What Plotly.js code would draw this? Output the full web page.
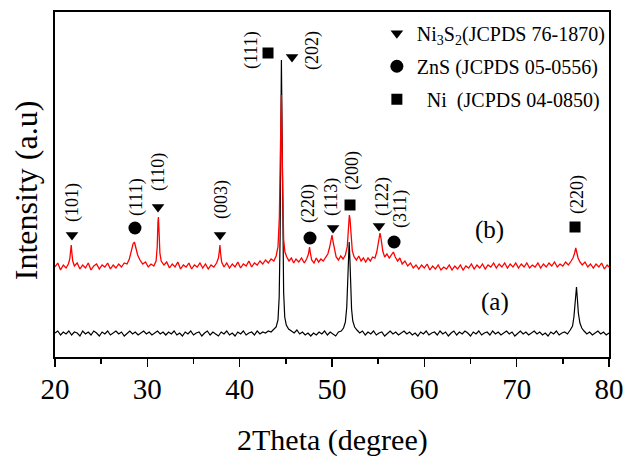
<!DOCTYPE html>
<html>
<head>
<meta charset="utf-8">
<script src="https://cdn.plot.ly/plotly-3.0.1.min.js"></script>
<style>html,body{margin:0;padding:0;background:#fff;}#chart{width:626px;height:466px;}</style>
</head>
<body>
<div id="chart"></div>
<script>
// ---- Pattern (a): black ----
var xa = [20.0,20.3,20.6,20.9,21.2,21.5,21.8,22.1,22.4,22.7,23.0,23.3,23.6,23.9,24.2,24.5,24.8,25.1,25.4,25.7,26.0,26.3,26.6,26.9,27.2,27.5,27.8,28.1,28.4,28.7,29.0,29.3,29.6,29.9,30.2,30.5,30.8,31.1,31.4,31.7,32.0,32.3,32.6,32.9,33.2,33.5,33.8,34.1,34.4,34.7,35.0,35.3,35.6,35.9,36.2,36.5,36.8,37.1,37.4,37.7,38.0,38.3,38.6,38.9,39.2,39.5,39.8,40.1,40.4,40.7,41.0,41.3,41.6,41.9,42.2,42.5,42.8,43.1,43.4,43.7,43.95,44.15,44.28,44.38,44.46,44.52,44.58,44.66,44.76,44.88,45.05,45.3,45.6,45.9,46.2,46.5,46.8,47.1,47.4,47.7,48.0,48.3,48.6,48.9,49.2,49.5,49.8,50.1,50.4,50.7,51.0,51.25,51.45,51.6,51.7,51.8,51.86,51.93,52.02,52.12,52.25,52.45,52.7,53.0,53.3,53.6,53.9,54.2,54.5,54.8,55.1,55.4,55.7,56.0,56.3,56.6,56.9,57.2,57.5,57.8,58.1,58.4,58.7,59.0,59.3,59.6,59.9,60.2,60.5,60.8,61.1,61.4,61.7,62.0,62.3,62.6,62.9,63.2,63.5,63.8,64.1,64.4,64.7,65.0,65.3,65.6,65.9,66.2,66.5,66.8,67.1,67.4,67.7,68.0,68.3,68.6,68.9,69.2,69.5,69.8,70.1,70.4,70.7,71.0,71.3,71.6,71.9,72.2,72.5,72.8,73.1,73.4,73.7,74.0,74.3,74.6,74.9,75.2,75.5,75.8,76.05,76.2,76.32,76.42,76.48,76.56,76.68,76.85,77.05,77.3,77.6,77.9,78.2,78.5,78.8,79.1,79.4,79.7,80.0];
var ya = [24,26,22,25,23,26,22,25,24,21,26,23,25,22,26,24,21,25,23,26,22,24,26,23,25,21,24,26,23,25,22,24,26,23,25,22,24,26,23,25,22,25,23,26,22,24,21,25,23,26,22,24,25,21,24,26,22,25,23,21,25,23,26,22,24,21,25,23,26,22,24,25,22,26,23,25,24,26,25,28,30,37,60,120,230,297,240,130,65,40,32,28,26,24,27,23,25,22,24,21,24,22,25,23,26,22,25,23,21,25,26,29,35,50,75,105,115,100,70,48,36,30,27,24,26,22,25,23,26,22,24,25,21,24,26,23,25,22,24,26,23,25,22,24,21,25,23,26,22,24,25,22,26,23,25,21,24,26,22,25,23,26,24,21,25,23,26,22,24,25,22,26,23,25,22,24,26,23,25,21,24,26,23,25,22,24,26,23,25,22,24,21,25,23,26,22,24,25,23,27,31,40,55,68,70,60,44,34,29,26,23,25,22,24,26,23,25,22,24];

// ---- Pattern (b): red ----
var xb = [20.0,20.3,20.6,20.9,21.2,21.45,21.6,21.7,21.76,21.82,21.92,22.1,22.4,22.7,23.0,23.3,23.6,23.9,24.2,24.5,24.8,25.1,25.4,25.7,26.0,26.3,26.6,26.9,27.2,27.5,27.8,28.05,28.25,28.45,28.6,28.75,28.95,29.2,29.5,29.8,30.1,30.4,30.7,30.95,31.07,31.15,31.2,31.27,31.36,31.5,31.8,32.1,32.4,32.7,33.0,33.3,33.6,33.9,34.2,34.5,34.8,35.1,35.4,35.7,36.0,36.3,36.6,36.9,37.2,37.5,37.7,37.8,37.86,37.93,38.05,38.3,38.6,38.9,39.2,39.5,39.8,40.1,40.4,40.7,41.0,41.3,41.6,41.9,42.2,42.5,42.8,43.1,43.4,43.7,43.95,44.15,44.3,44.4,44.47,44.52,44.58,44.66,44.76,44.9,45.1,45.35,45.6,45.85,46.1,46.4,46.7,47.0,47.25,47.45,47.57,47.66,47.8,48.05,48.3,48.55,48.8,49.05,49.3,49.55,49.75,49.9,50.0,50.1,50.25,50.45,50.7,50.95,51.2,51.45,51.65,51.78,51.88,51.95,52.05,52.2,52.4,52.65,52.9,53.15,53.4,53.65,53.9,54.15,54.4,54.65,54.85,55.05,55.2,55.32,55.5,55.7,55.95,56.2,56.45,56.65,56.85,57.1,57.35,57.6,57.9,58.2,58.5,58.8,59.1,59.4,59.7,60.0,60.3,60.6,60.9,61.2,61.5,61.8,62.1,62.4,62.7,63.0,63.3,63.6,63.9,64.2,64.5,64.8,65.1,65.4,65.7,66.0,66.3,66.6,66.9,67.2,67.5,67.8,68.1,68.4,68.7,69.0,69.3,69.6,69.9,70.2,70.5,70.8,71.1,71.4,71.7,72.0,72.3,72.6,72.9,73.2,73.5,73.8,74.1,74.4,74.7,75.0,75.3,75.6,75.9,76.1,76.28,76.4,76.5,76.65,76.85,77.1,77.4,77.7,78.0,78.3,78.6,78.9,79.2,79.5,79.8,80.0];
var yb = [90,94,87,92,89,93,98,106,112,105,96,91,94,88,92,89,94,87,91,93,88,92,90,94,88,92,89,93,90,94,93,98,106,113,115,110,102,97,93,95,90,93,91,96,110,135,140,125,104,96,92,95,89,93,90,95,88,92,90,94,88,92,90,94,89,93,88,92,90,94,99,106,112,104,95,90,94,89,93,90,95,89,93,91,96,90,94,92,96,93,97,94,98,96,101,110,140,200,250,262,215,150,118,105,100,96,99,94,98,95,99,94,98,103,110,104,97,94,99,95,98,96,100,103,110,118,122,116,107,100,97,101,98,102,110,125,142,138,120,106,100,97,101,96,99,95,99,96,100,99,105,115,124,118,106,100,103,99,103,105,100,96,99,93,96,91,94,89,92,88,92,89,93,87,91,88,92,87,90,88,92,87,91,88,92,87,91,89,93,88,92,89,93,88,92,90,94,89,93,90,94,89,93,90,94,89,93,90,94,89,92,90,94,89,93,90,94,91,95,90,93,91,95,92,96,99,104,109,105,99,95,92,95,90,93,89,93,90,94,88,92,90];

// ---- Phase markers ----
var ni3s2X = [21.84, 31.16, 37.87, 45.67, 50.11, 55.09];
var ni3s2Y = [122, 150, 122, 300, 129, 131];
var znsX = [28.66, 47.62, 56.72];
var znsY = [129, 119, 115];
var niX = [43.07, 51.95, 76.32];
var niY = [304, 152, 130];

// ---- hkl labels ----
var hklText = ['(101)','(111)','(110)','(003)','(111)','(202)','(220)','(113)','(200)','(122)','(311)','(220)'];
var hklX = [21.84, 28.77, 31.16, 37.98, 41.23, 47.83, 47.40, 49.89, 52.17, 55.42, 57.37, 76.54];
var hklY = [155, 160, 185, 157, 307, 307, 154, 160, 186, 160, 148, 162];

var sampleText = ['(b)', '(a)'];
var sampleX = [67.1, 67.66];
var sampleY = [127, 55];

var legendNames = ['Ni<sub>3</sub>S<sub>2</sub>(JCPDS 76-1870)', 'ZnS (JCPDS 05-0556)', '\u00a0\u00a0Ni\u00a0\u00a0(JCPDS 04-0850)'];

var serif = "'Liberation Serif', 'Times New Roman', Times, serif";

var traces = [
  {x: xa, y: ya, type: 'scatter', mode: 'lines', line: {color: '#000000', width: 1.2}, showlegend: false, hoverinfo: 'skip'},
  {x: xb, y: yb, type: 'scatter', mode: 'lines', line: {color: '#ff0000', width: 1.3}, showlegend: false, hoverinfo: 'skip'},
  {x: ni3s2X, y: ni3s2Y, type: 'scatter', mode: 'markers', name: legendNames[0], legendgroup: 'g1',
   marker: {symbol: 'triangle-down', size: 11, color: '#000'}},
  {x: znsX, y: znsY, type: 'scatter', mode: 'markers', name: legendNames[1], legendgroup: 'g2',
   marker: {symbol: 'circle', size: 13, color: '#000'}},
  {x: niX, y: niY, type: 'scatter', mode: 'markers', name: legendNames[2], legendgroup: 'g3',
   marker: {symbol: 'square', size: 11, color: '#000'}}
];

var annotations = [];
for (var i = 0; i < hklText.length; i++) {
  annotations.push({x: hklX[i], y: hklY[i], xref: 'x', yref: 'y', text: hklText[i], showarrow: false,
    textangle: -90, font: {family: serif, size: 18, color: '#000'}, xanchor: 'center', yanchor: 'middle'});
}
for (var j = 0; j < sampleText.length; j++) {
  annotations.push({x: sampleX[j], y: sampleY[j], xref: 'x', yref: 'y', text: sampleText[j], showarrow: false,
    font: {family: serif, size: 25, color: '#000'}, xanchor: 'center', yanchor: 'middle'});
}
annotations.push({x: 0.5, y: -0.24, xref: 'paper', yref: 'paper', text: '2Theta (degree)', showarrow: false,
  font: {family: serif, size: 30, color: '#000'}, xanchor: 'center', yanchor: 'middle'});
annotations.push({x: -0.052, y: 0.484, xref: 'paper', yref: 'paper', text: 'Intensity (a.u)', showarrow: false,
  textangle: -90, font: {family: serif, size: 32, color: '#000'}, xanchor: 'center', yanchor: 'middle'});

var layout = {
  width: 626, height: 466,
  margin: {l: 55, r: 17, t: 12, b: 109},
  paper_bgcolor: '#fff', plot_bgcolor: '#fff',
  font: {family: serif, color: '#000'},
  showlegend: true,
  legend: {x: 0.581, y: 0.995, xanchor: 'left', yanchor: 'top', bgcolor: 'rgba(0,0,0,0)',
    font: {family: serif, size: 20, color: '#000'}, tracegroupgap: 4, itemclick: false},
  xaxis: {range: [20, 80], showline: true, linecolor: '#000', linewidth: 2, mirror: true,
    ticks: 'outside', ticklen: 8, tickwidth: 1.5, tickcolor: '#000', tick0: 20, dtick: 10,
    ticklabelstandoff: -3,
    minor: {dtick: 5, ticks: 'outside', ticklen: 5, tickwidth: 1.5, tickcolor: '#000', showgrid: false},
    showgrid: false, zeroline: false, tickfont: {family: serif, size: 29, color: '#000'}},
  yaxis: {range: [0, 345], showline: true, linecolor: '#000', linewidth: 2, mirror: true,
    ticks: '', showticklabels: false, showgrid: false, zeroline: false},
  annotations: annotations
};

Plotly.newPlot('chart', traces, layout, {displayModeBar: false, staticPlot: true});
</script>
</body>
</html>
